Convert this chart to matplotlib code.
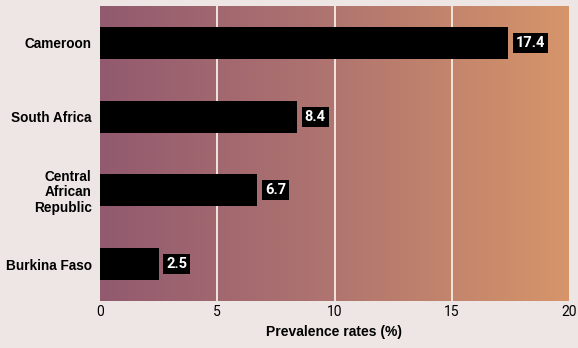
import matplotlib
matplotlib.use("Agg")
import matplotlib.pyplot as plt
import numpy as np
from matplotlib.colors import LinearSegmentedColormap

countries = ["Cameroon", "South Africa", "Central\nAfrican\nRepublic", "Burkina Faso"]
values = [17.4, 8.4, 6.7, 2.5]
xticks = [0, 5, 10, 15, 20]
xlabel = "Prevalence rates (%)"

fig = plt.figure(figsize=(5.78, 3.48), dpi=100)
fig.patch.set_facecolor("#eee6e5")
ax = fig.add_axes([100/578, 47/348, 469/578, 295/348])

cmap = LinearSegmentedColormap.from_list("g", ["#925a6f", "#b0756f", "#d6956a"])
grad = np.linspace(0, 1, 256).reshape(1, -1)
ax.imshow(grad, extent=[0, 1, 0, 1], transform=ax.transAxes, aspect="auto",
          cmap=cmap, zorder=0)

y = np.arange(len(countries))
ax.barh(y, values, height=0.435, color="black", zorder=3)
for yi, v in zip(y, values):
    ax.annotate(f"{v}", xy=(v, yi), xytext=(5.5, 0), textcoords="offset points",
                ha="left", va="center", color="white", fontsize=10.5,
                fontweight="bold", family="Roboto", zorder=4,
                bbox=dict(boxstyle="square,pad=0.2", fc="black", ec="none"))

ax.set_xlim(0, 20)
ax.set_ylim(3.5, -0.5)
ax.set_xticks(xticks)
ax.set_xticklabels([str(t) for t in xticks], family="Roboto", fontsize=10)
ax.set_yticks(y)
ax.set_yticklabels(countries, family="Liberation Sans", fontweight="bold",
                   fontsize=9.8, linespacing=1.1)
ax.tick_params(axis="both", length=0)
ax.tick_params(axis="y", pad=6)
ax.tick_params(axis="x", pad=3)
for x in xticks[1:-1]:
    ax.axvline(x, color="#f3e4df", lw=1.4, zorder=1)
for s in ax.spines.values():
    s.set_visible(False)
ax.set_xlabel(xlabel, family="Liberation Sans", fontweight="bold", fontsize=10, labelpad=4)

fig.savefig("out.png", dpi=100, facecolor=fig.get_facecolor())
